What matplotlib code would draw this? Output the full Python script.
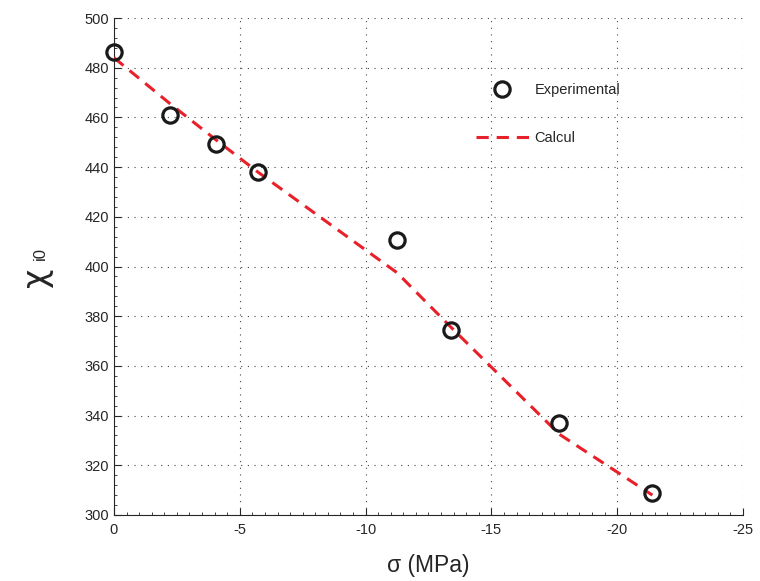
import numpy as np
import matplotlib
matplotlib.use("Agg")
import matplotlib.pyplot as plt
from matplotlib.ticker import MultipleLocator

plt.rcParams['font.family'] = ['Liberation Sans', 'DejaVu Sans']
plt.rcParams['axes.unicode_minus'] = False

# experimental points
sigma_exp = [0.0, -2.23, -4.05, -5.72, -11.25, -13.4, -17.7, -21.4]
chi_exp = [486.3, 461.0, 449.3, 438.0, 410.7, 374.6, 337.0, 308.8]

# calculated curve
sigma_calc = [0.0, -2.23, -4.05, -5.72, -11.25, -13.4, -17.7, -21.4]
chi_calc = [484.0, 465.5, 451.0, 438.0, 397.5, 375.5, 332.5, 308.0]

txt = '#262626'

fig = plt.figure(figsize=(7.6, 5.81), dpi=100)
ax = fig.add_axes([0.15, 0.1136, 0.8276, 0.8554])

ax.plot(sigma_calc, chi_calc, color='#e8202a', lw=2.2, dashes=[4, 2.6],
        label='Calcul', zorder=3)
ax.plot(sigma_exp, chi_exp, 'o', ms=11, mfc='none', mec='#1a1a1a', mew=2.3,
        label='Experimental', zorder=4, clip_on=False)

ax.set_xlim(0, -25)
ax.set_ylim(300, 500)
ax.xaxis.set_major_locator(MultipleLocator(5))
ax.xaxis.set_minor_locator(MultipleLocator(0.5))
ax.yaxis.set_major_locator(MultipleLocator(20))
ax.yaxis.set_minor_locator(MultipleLocator(4))

ax.spines['top'].set_visible(False)
ax.spines['right'].set_visible(False)
ax.spines['left'].set_color(txt)
ax.spines['bottom'].set_color(txt)
ax.tick_params(which='both', direction='in', colors=txt, labelsize=10.5)
ax.tick_params(which='major', length=5)
ax.tick_params(which='minor', length=2.5)
ax.tick_params(axis='x', pad=6)

ax.grid(True, which='major', ls=(0, (1, 5)), lw=0.8, color='#444444')

ax.set_xlabel('σ (MPa)', fontsize=16.5, color=txt, labelpad=12)

# y label: chi with subscript i0
ax.set_ylabel('χ', fontsize=24, color=txt, family='DejaVu Sans')
ax.yaxis.label.set_va('center')
ax.yaxis.set_label_coords(-0.124, 0.479)
ax.text(-0.117, 0.527, 'i0', transform=ax.transAxes, rotation=90,
        fontsize=12, color=txt, ha='center', va='center')

handles, labels = ax.get_legend_handles_labels()
leg = ax.legend(handles[::-1], labels[::-1], loc='upper left',
                bbox_to_anchor=(0.555, 0.895), frameon=False,
                fontsize=10.5, handlelength=3.6, labelspacing=2.3,
                handletextpad=0.4)
for t in leg.get_texts():
    t.set_color(txt)

fig.savefig('out.png', dpi=100)
